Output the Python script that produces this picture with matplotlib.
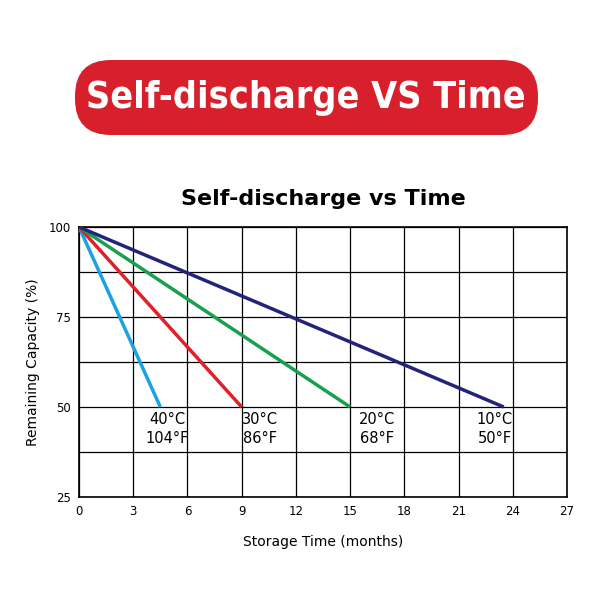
import matplotlib
matplotlib.use("Agg")
import matplotlib.pyplot as plt
from matplotlib.patches import FancyBboxPatch

series_names = ["40°C\n104°F", "30°C\n86°F", "20°C\n68°F", "10°C\n50°F"]
end_months = [4.5, 9, 15, 23.5]
start_cap = [100, 100, 100, 100]
end_cap = [50, 50, 50, 50]
colors = ["#1aa3e0", "#e0202a", "#18a050", "#23237a"]
label_x = [4.9, 10.0, 16.5, 23.0]
xticks = [0, 3, 6, 9, 12, 15, 18, 21, 24, 27]
yticks = [25, 50, 75, 100]

fig = plt.figure(figsize=(6, 6), dpi=100)
ax = fig.add_axes([79/600, 1-497/600, (567-79)/600, (497-227)/600])

for n, e, s, c0, col, lx in zip(series_names, end_months, start_cap, end_cap, colors, label_x):
    ax.plot([0, e], [s, c0], color=col, lw=2.5, solid_capstyle="butt", zorder=3)
    ax.text(lx, 48.5, n, ha="center", va="top", fontsize=10.5, linespacing=1.3)

ax.set_xlim(0, 27)
ax.set_ylim(25, 100)
ax.set_xticks(xticks)
ax.set_yticks([25 + 12.5*i for i in range(7)])
ax.set_yticklabels(["25", "", "50", "", "75", "", "100"])
ax.grid(True, color="black", lw=0.9)
ax.tick_params(length=0, labelsize=8.5, pad=6)
for sp in ax.spines.values():
    sp.set_linewidth(1.2)
ax.set_xlabel("Storage Time (months)", fontsize=10, labelpad=12)
ax.set_ylabel("Remaining Capacity (%)", fontsize=10, labelpad=6)
ax.set_title("Self-discharge vs Time", fontsize=16, fontweight="bold", pad=16)

box = FancyBboxPatch((75/600, 1-135/600), (538-75)/600, 75/600,
                     boxstyle="round,pad=0,rounding_size=0.06", transform=fig.transFigure,
                     facecolor="#d8202c", edgecolor="none")
fig.patches.append(box)
fig.text(306/600, 1-98/600, "Self-discharge VS Time", ha="center", va="center",
         color="white", fontsize=27, fontweight="bold", family="DejaVu Sans", fontstretch="condensed")

fig.savefig("out.png")
